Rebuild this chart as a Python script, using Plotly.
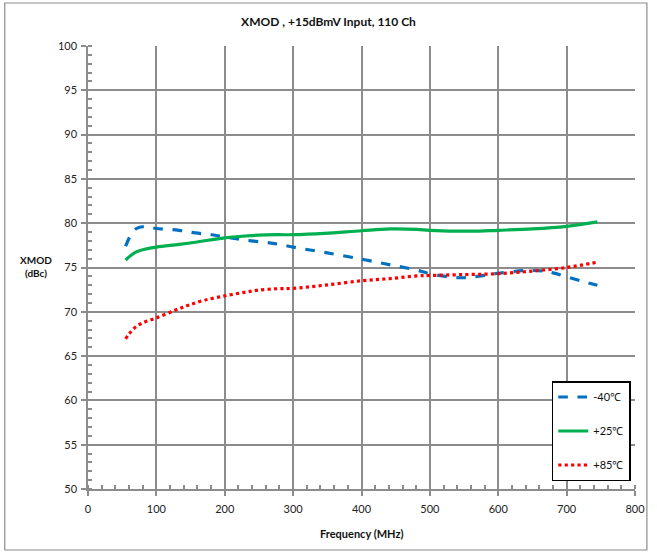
import plotly.graph_objects as go

# Data
freq_m40 = [55, 60, 65, 72, 80, 90, 100, 133, 157, 181, 200, 229, 258, 277, 300, 346, 400, 442, 481, 500, 540, 570, 600, 640, 666, 680, 700, 725, 745]
xmod_m40 = [77.4, 78.3, 79.0, 79.45, 79.6, 79.55, 79.4, 79.2, 78.9, 78.7, 78.45, 78.1, 77.85, 77.65, 77.3, 76.7, 75.95, 75.3, 74.7, 74.3, 73.85, 74.0, 74.35, 74.65, 74.6, 74.4, 73.95, 73.4, 73.0]

freq_p25 = [55, 60, 65, 72, 80, 100, 133, 157, 200, 229, 249, 277, 300, 346, 400, 442, 481, 500, 560, 600, 650, 700, 745]
xmod_p25 = [75.85, 76.2, 76.5, 76.8, 77.0, 77.3, 77.6, 77.85, 78.35, 78.55, 78.65, 78.7, 78.7, 78.85, 79.15, 79.35, 79.3, 79.2, 79.1, 79.2, 79.35, 79.65, 80.15]

freq_p85 = [55, 60, 70, 80, 100, 128, 147, 170, 200, 229, 249, 277, 300, 346, 400, 442, 481, 500, 550, 600, 650, 700, 745]
xmod_p85 = [66.95, 67.5, 68.3, 68.75, 69.3, 70.2, 70.75, 71.3, 71.8, 72.2, 72.45, 72.6, 72.65, 73.0, 73.5, 73.75, 74.05, 74.1, 74.2, 74.3, 74.6, 75.0, 75.6]

series_names = ["-40℃", "+25℃", "+85℃"]

FONT = "Lato, Open Sans, sans-serif"

fig = go.Figure()
fig.add_trace(go.Scatter(x=freq_m40, y=xmod_m40, mode="lines", name=series_names[0],
                         legendgroup="a", line=dict(color="#0070C0", width=3.2, dash="dash", shape="spline")))
fig.add_trace(go.Scatter(x=freq_p25, y=xmod_p25, mode="lines", name=series_names[1],
                         legendgroup="b", line=dict(color="#00B050", width=3.2, shape="spline")))
fig.add_trace(go.Scatter(x=freq_p85, y=xmod_p85, mode="lines", name=series_names[2],
                         legendgroup="c", line=dict(color="#FF0000", width=3.2, dash="dot", shape="spline")))

axis_common = dict(
    showgrid=True, gridcolor="#8c8c8c", gridwidth=1.5,
    showline=True, linecolor="#8c8c8c", linewidth=1.5, mirror=False,
    ticks="outside", ticklen=5, tickcolor="#8c8c8c", tickwidth=1.5,
    zeroline=False,
    tickfont=dict(family=FONT, size=11, color="#222222"),
)

fig.update_xaxes(range=[0, 800], dtick=100, tick0=0, ticklabelstandoff=4,
                 minor=dict(dtick=20, ticks="inside", ticklen=4, tickcolor="#8c8c8c", showgrid=False),
                 **axis_common)
fig.update_yaxes(range=[50, 100], dtick=5, tick0=50, ticklabelstandoff=2,
                 minor=dict(dtick=1, ticks="inside", ticklen=4, tickcolor="#8c8c8c", showgrid=False),
                 **axis_common)

W, H = 657, 554
L, R, T, B = 88, 17, 46, 65
pw, ph = W - L - R, H - T - B

def px_x(p):
    return (p - L) / pw

def px_y(p):
    return (H - B - p) / ph

fig.update_layout(
    width=W, height=H,
    margin=dict(l=L, r=R, t=T, b=B),
    paper_bgcolor="white", plot_bgcolor="white",
    title=dict(text="<b>XMOD , +15dBmV Input, 110 Ch</b>", x=0.5, xref="container",
               y=1 - 22 / H, yref="container", xanchor="center", yanchor="middle",
               font=dict(family=FONT, size=12, color="#111111")),
    legend=dict(x=px_x(556), y=px_y(481), xanchor="left", yanchor="bottom",
                bgcolor="white", bordercolor="#000000", borderwidth=1.5,
                font=dict(family=FONT, size=11, color="#111111"),
                traceorder="grouped", tracegroupgap=15, itemwidth=30),
    showlegend=True,
    shapes=[dict(type="rect", xref="paper", yref="paper",
                 x0=px_x(4), x1=px_x(652), y0=px_y(550), y1=px_y(3),
                 line=dict(color="#8c8c8c", width=1.2), fillcolor="rgba(0,0,0,0)", layer="below")],
    annotations=[
        dict(text="<b>XMOD<br>(dBc)</b>", xref="paper", yref="paper",
             x=px_x(36), y=px_y(266), xanchor="center", yanchor="middle",
             showarrow=False, align="center",
             font=dict(family=FONT, size=10, color="#111111")),
        dict(text="<b>Frequency (MHz)</b>", xref="paper", yref="paper",
             x=0.5, y=px_y(533), xanchor="center", yanchor="middle", showarrow=False,
             font=dict(family=FONT, size=11, color="#111111")),
    ],
)

fig.write_html("out.html",
               config={"displayModeBar": False},
               post_script="document.body.style.margin='0';document.body.style.overflow='hidden';")
